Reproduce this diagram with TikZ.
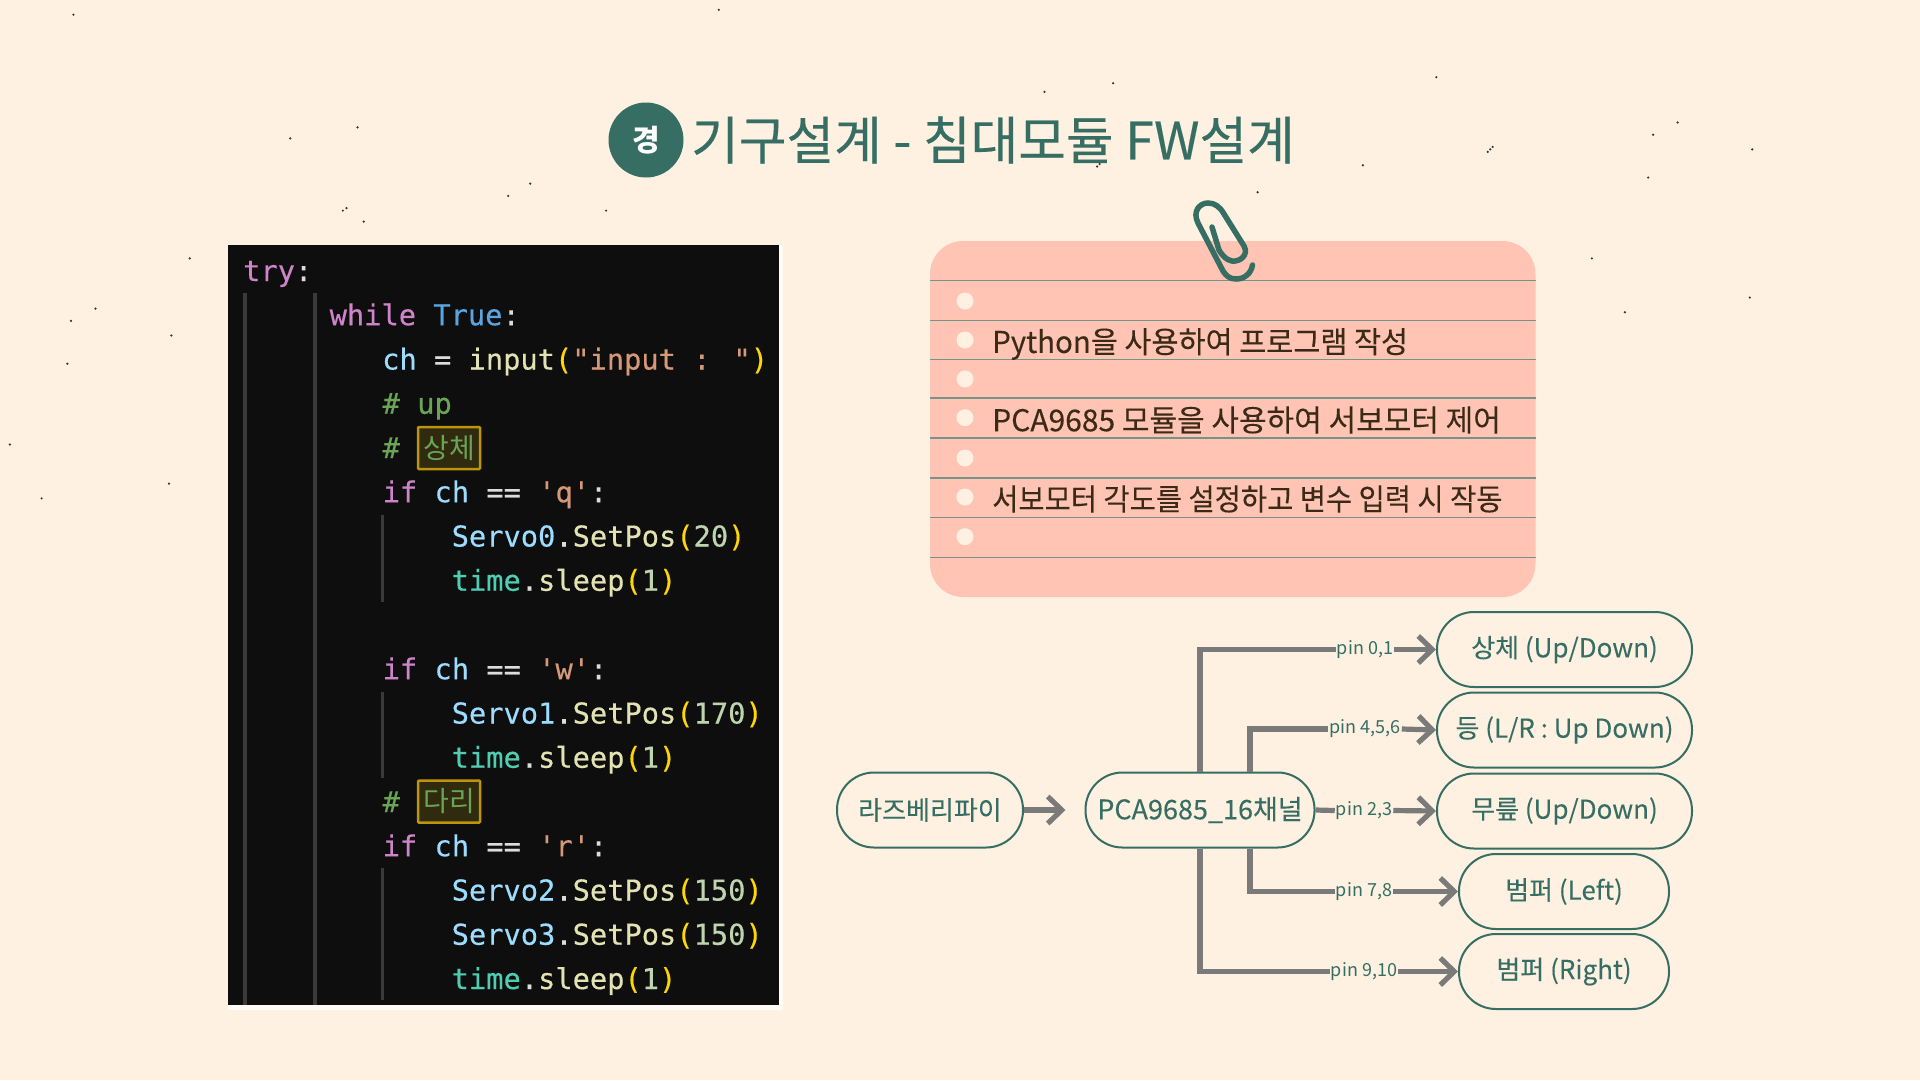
\documentclass[tikz,border=0pt]{standalone}
\usepackage{xcolor}
\usepackage{fontspec}
\usepackage{tikz}
\usetikzlibrary{arrows.meta, positioning}
\setmainfont{Noto Sans CJK KR}
\newfontfamily\codefont[FakeBold=0.35]{DejaVu Sans Mono}
\newfontfamily\hangulcode{Noto Sans CJK KR}
\newfontfamily\headfont[FakeBold=0.3]{Noto Sans CJK KR}
\newfontfamily\notefont[FakeBold=0.2]{Noto Sans CJK KR}
\newfontfamily\pillfont[FakeBold=0.12]{Noto Sans CJK KR}
\definecolor{slideCream}{RGB}{254, 241, 226}
\definecolor{slideTeal}{RGB}{54, 110, 99}
\definecolor{notePeach}{RGB}{255, 196, 180}
\definecolor{noteRule}{RGB}{116, 148, 136}
\definecolor{noteInk}{RGB}{60, 42, 24}
\definecolor{linkGray}{RGB}{122, 122, 122}
\definecolor{codeBlack}{RGB}{14, 14, 14}
\definecolor{codeGuide}{RGB}{58, 58, 58}
\definecolor{kwPink}{RGB}{206, 132, 200}
\definecolor{kwBlue}{RGB}{90, 165, 225}
\definecolor{varBlue}{RGB}{156, 220, 254}
\definecolor{fnYellow}{RGB}{226, 226, 178}
\definecolor{bracketGold}{RGB}{255, 215, 0}
\definecolor{strOrange}{RGB}{214, 152, 120}
\definecolor{cmtGreen}{RGB}{106, 165, 85}
\definecolor{numGreen}{RGB}{190, 212, 175}
\definecolor{clsTeal}{RGB}{78, 205, 178}
\definecolor{plainGray}{RGB}{220, 220, 220}
\definecolor{markGold}{RGB}{190, 148, 10}
\definecolor{markFill}{RGB}{48, 42, 14}
\newcommand{\kw}[1]{\textcolor{kwPink}{#1}}
\newcommand{\tr}[1]{\textcolor{kwBlue}{#1}}
\newcommand{\vr}[1]{\textcolor{varBlue}{#1}}
\newcommand{\fn}[1]{\textcolor{fnYellow}{#1}}
\newcommand{\bk}[1]{\textcolor{bracketGold}{#1}}
\newcommand{\st}[1]{\textcolor{strOrange}{#1}}
\newcommand{\cm}[1]{\textcolor{cmtGreen}{#1}}
\newcommand{\nm}[1]{\textcolor{numGreen}{#1}}
\newcommand{\cl}[1]{\textcolor{clsTeal}{#1}}
\newcommand{\pl}[1]{\textcolor{plainGray}{#1}}
\tikzset{
    codeline/.style={anchor=base west, inner sep=0pt, font=\codefont\fontsize{28.7}{30}\selectfont},
    markbox/.style={
        draw=markGold, line width=2.5pt, fill=markFill, rounded corners=1pt,
        minimum width=62pt, minimum height=42pt, inner sep=0pt,
        text=cmtGreen, font=\hangulcode\fontsize{28}{30}\selectfont
    },
    notetext/.style={anchor=west, inner sep=0pt, text=noteInk, font=\notefont\fontsize{30}{34}\selectfont},
    pillbox/.style={
        draw=slideTeal, line width=2pt, fill=slideCream, rounded corners=37pt,
        minimum height=75pt, inner sep=0pt, text=slideTeal, font=\pillfont\fontsize{26}{30}\selectfont
    },
    pinlabel/.style={inner sep=1pt, text=slideTeal, font=\fontsize{18}{20}\selectfont},
    pinline/.style={draw=linkGray, line width=5.2pt},
    pinarrow/.style={pinline, -{Straight Barb[length=14pt,width=27pt]}}
}
\begin{document}
\begin{tikzpicture}[x=1pt, y=-1pt]
    \useasboundingbox (0,0) rectangle (1920,1080);
    \fill[slideCream] (0,0) rectangle (1920,1080);

    % specks
    \begin{scope}[scale=1.2245]
        \foreach \px/\py in {60/12, 587/8, 280/172, 283/170, 297/181, 415/160, 433/150, 495/172,
            853/75, 909/68, 1173/63, 1350/110, 1370/100, 1431/122, 1217/122, 1219/120, 1215/124,
            1113/135, 898/134, 896/136, 900/132,
            1300/211, 1429/243, 1327/255, 155/211, 58/262, 78/252, 140/274, 55/297, 8/363,
            34/407, 138/395, 237/113, 292/104, 1027/157, 1346/145}
            \fill[black!80] (\px,\py) circle (1pt);
    \end{scope}

    % title
    \node[circle, fill=slideTeal, minimum size=75pt, inner sep=0pt, text=white,
        font=\fontsize{30}{32}\bfseries\selectfont] (badge) at (646,140) {경};
    \node[anchor=west, inner sep=0pt, text=slideTeal, font=\headfont\fontsize{51.8}{56}\selectfont]
        (title) at (691,140) {기구설계 - 침대모듈 FW설계};

    % code panel
    \fill[white!70!slideCream] (228,245) rectangle (783,1010);
    \fill[codeBlack] (228,245) rectangle (779,1005);
    \draw[codeGuide, line width=3.5pt] (245,293) -- (245,1005);
    \draw[codeGuide, line width=3.5pt] (315,293) -- (315,1005);
    \draw[codeGuide, line width=3pt] (382.5,515) -- (382.5,602);
    \draw[codeGuide, line width=3pt] (382.5,692) -- (382.5,778);
    \draw[codeGuide, line width=3pt] (382.5,868) -- (382.5,1000);
    \node[markbox] (markUpper) at (449,448) {상체};
    \node[markbox] (markLeg) at (449,801.5) {다리};
    \node[codeline] (codeTry) at (243,281) {\kw{try}\pl{:}};
    \node[codeline] (codeWhile) at (329.5,325.2) {\kw{while} \tr{True}\pl{:}};
    \node[codeline] (codeInput) at (382,369.5) {\vr{ch} \pl{=} \fn{input}\bk{(}\st{"input : "}\bk{)}};
    \node[codeline] (codeUp) at (382.5,413.7) {\cm{\# up}};
    \node[codeline] (codeHashA) at (382.5,458) {\cm{\#}};
    \node[codeline] (codeIfQ) at (382.5,502.2) {\kw{if} \vr{ch} \pl{==} \st{'q'}\pl{:}};
    \node[codeline] (codeServoA) at (451.5,546.5) {\vr{Servo0}\pl{.}\fn{SetPos}\bk{(}\nm{20}\bk{)}};
    \node[codeline] (codeSleepA) at (451.5,590.7) {\cl{time}\pl{.}\fn{sleep}\bk{(}\nm{1}\bk{)}};
    \node[codeline] (codeIfW) at (382.5,679.2) {\kw{if} \vr{ch} \pl{==} \st{'w'}\pl{:}};
    \node[codeline] (codeServoB) at (451.5,723.5) {\vr{Servo1}\pl{.}\fn{SetPos}\bk{(}\nm{170}\bk{)}};
    \node[codeline] (codeSleepB) at (451.5,767.7) {\cl{time}\pl{.}\fn{sleep}\bk{(}\nm{1}\bk{)}};
    \node[codeline] (codeHashB) at (382.5,812) {\cm{\#}};
    \node[codeline] (codeIfR) at (382.5,856.2) {\kw{if} \vr{ch} \pl{==} \st{'r'}\pl{:}};
    \node[codeline] (codeServoC) at (451.5,900.5) {\vr{Servo2}\pl{.}\fn{SetPos}\bk{(}\nm{150}\bk{)}};
    \node[codeline] (codeServoD) at (451.5,944.7) {\vr{Servo3}\pl{.}\fn{SetPos}\bk{(}\nm{150}\bk{)}};
    \node[codeline] (codeSleepC) at (451.5,989) {\cl{time}\pl{.}\fn{sleep}\bk{(}\nm{1}\bk{)}};

    % note paper
    \fill[notePeach, rounded corners=33pt] (930,241) rectangle (1535.5,597);
    \foreach \ry/\rw in {280.3/1.3, 320.3/1.3, 359.3/1.3, 398/1.3, 438/2.2, 478/1.3, 517.3/1.3, 557.3/1.3}
        \draw[noteRule, line width=\rw pt] (930,\ry) -- (1535.5,\ry);
    \foreach \dy in {301, 340, 379, 417.7, 458, 497, 536.7}
        \fill[slideCream] (965,\dy) circle (8.5pt);
    \node[notetext] (noteA) at (992,344) {\scalebox{0.98}[1]{Python을 사용하여 프로그램 작성}};
    \node[notetext] (noteB) at (992,420) {PCA9685 모듈을 사용하여 서보모터 제어};
    \node[notetext] (noteC) at (992,499) {\scalebox{0.95}[1]{서보모터 각도를 설정하고 변수 입력 시 작동}};
    \draw[slideTeal, line width=5.5pt, line cap=round]
        (1252.5,265) .. controls (1251,274) and (1244,279) .. (1236,279)
        .. controls (1230,279) and (1226,276) .. (1223,271)
        -- (1198,223)
        .. controls (1192,211) and (1200,203) .. (1208,203)
        .. controls (1215,203) and (1220,207) .. (1224,214)
        -- (1244,246)
        .. controls (1249,255) and (1240,262) .. (1232,261)
        .. controls (1226,260) and (1222,255) .. (1219,250)
        -- (1212,227);

    % flow
    \node[pillbox, minimum width=186pt] (raspi) at (930,810) {라즈베리파이};
    \node[pillbox, minimum width=229pt, font=\pillfont\fontsize{27}{30}\selectfont] (pca) at (1200,810) {PCA9685\_16채널};
    \node[pillbox, minimum width=255pt] (upper) at (1564.5,649.5) {상체 (Up/Down)};
    \node[pillbox, minimum width=255pt] (back) at (1564.5,730) {등 (L/R : Up Down)};
    \node[pillbox, minimum width=255pt] (knee) at (1564.5,811) {무릎 (Up/Down)};
    \node[pillbox, minimum width=210pt] (bumperL) at (1564,891.5) {범퍼 (Left)};
    \node[pillbox, minimum width=210pt] (bumperR) at (1564,971.5) {범퍼 (Right)};
    \node[pinlabel] (pinUpper) at (1365,649.5) {pin 0,1};
    \node[pinlabel] (pinBack) at (1365,729) {pin 4,5,6};
    \node[pinlabel] (pinKnee) at (1364,810.5) {pin 2,3};
    \node[pinlabel] (pinBumperL) at (1364,891.5) {pin 7,8};
    \node[pinlabel] (pinBumperR) at (1364,971.5) {pin 9,10};
    \draw[pinarrow, shorten >=19pt] (raspi) -- (pca);
    \draw[pinline] (pca.north) |- (pinUpper.west);
    \draw[pinarrow] (pinUpper.east) -- (upper.west);
    \draw[pinline] ([xshift=50pt]pca.north) |- (pinBack.west);
    \draw[pinarrow] (pinBack.east) -- (back.west);
    \draw[pinline] (pca.east) -- (pinKnee.west);
    \draw[pinarrow] (pinKnee.east) -- (knee.west);
    \draw[pinline] ([xshift=50pt]pca.south) |- (pinBumperL.west);
    \draw[pinarrow] (pinBumperL.east) -- (bumperL.west);
    \draw[pinline] (pca.south) |- (pinBumperR.west);
    \draw[pinarrow] (pinBumperR.east) -- (bumperR.west);
\end{tikzpicture}
\end{document}
